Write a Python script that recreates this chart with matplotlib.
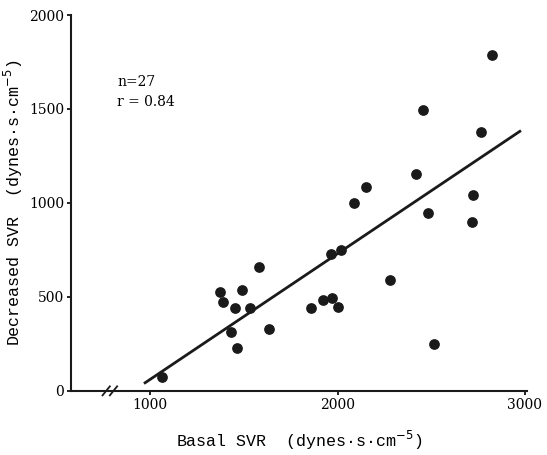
import matplotlib.pyplot as plt

# Basal SVR vs decreased SVR (dynes*s*cm^-5)
basal = [1064, 1374, 1390, 1433, 1455, 1465, 1492, 1535, 1583, 1636,
         1861, 1920, 1963, 1968, 2005, 2016, 2086, 2150, 2278, 2417,
         2455, 2481, 2513, 2717, 2722, 2765, 2824]
decreased = [75, 528, 475, 315, 443, 229, 539, 443, 661, 331,
             443, 485, 728, 496, 448, 752, 997, 1083, 592, 1152,
             1493, 944, 251, 896, 1040, 1376, 1787]

# regression line
fit_x = [973, 2973]
fit_y = [43, 1381]

x_ticks = [1000, 2000, 3000]
y_ticks = [0, 500, 1000, 1500, 2000]

fig = plt.figure(figsize=(5.47, 4.55), dpi=100)
ax = fig.add_axes([0.130, 0.141, 0.833, 0.826])

ax.scatter(basal, decreased, s=45, color='#1a1a1a', zorder=3)
ax.plot(fit_x, fit_y, color='#1a1a1a', linewidth=2)

ax.set_xlim(578, 3010)
ax.set_ylim(0, 2000)
ax.set_xticks(x_ticks)
ax.set_yticks(y_ticks)
ax.set_xticklabels([str(t) for t in x_ticks], family='DejaVu Serif', fontsize=10)
ax.set_yticklabels([str(t) for t in y_ticks], family='DejaVu Serif', fontsize=10)
ax.tick_params(direction='out', length=3, width=1.2, pad=2)

for side in ['top', 'right']:
    ax.spines[side].set_visible(False)
for side in ['left', 'bottom']:
    ax.spines[side].set_linewidth(1.5)
    ax.spines[side].set_color('#1a1a1a')

# axis break marks
for dx in [-0.008, 0.008]:
    ax.plot([0.085 + dx - 0.008, 0.085 + dx + 0.008], [-0.012, 0.012],
            transform=ax.transAxes, color='#1a1a1a', linewidth=1.3, clip_on=False)
ax.plot([0.074, 0.096], [0, 0], transform=ax.transAxes, color='white',
        linewidth=2.5, clip_on=False, zorder=0)

ax.text(824, 1643, 'n=27', family='DejaVu Serif', fontsize=10, va='center')
ax.text(824, 1536, 'r = 0.84', family='DejaVu Serif', fontsize=10, va='center')

ax.set_xlabel('Basal SVR  (dynes\u00b7s\u00b7cm$^{-5}$)', family='Liberation Mono',
              fontsize=12, labelpad=12)
ax.set_ylabel('Decreased SVR  (dynes\u00b7s\u00b7cm$^{-5}$)', family='Liberation Mono',
              fontsize=12, labelpad=3)

plt.savefig('out.png', dpi=100)
